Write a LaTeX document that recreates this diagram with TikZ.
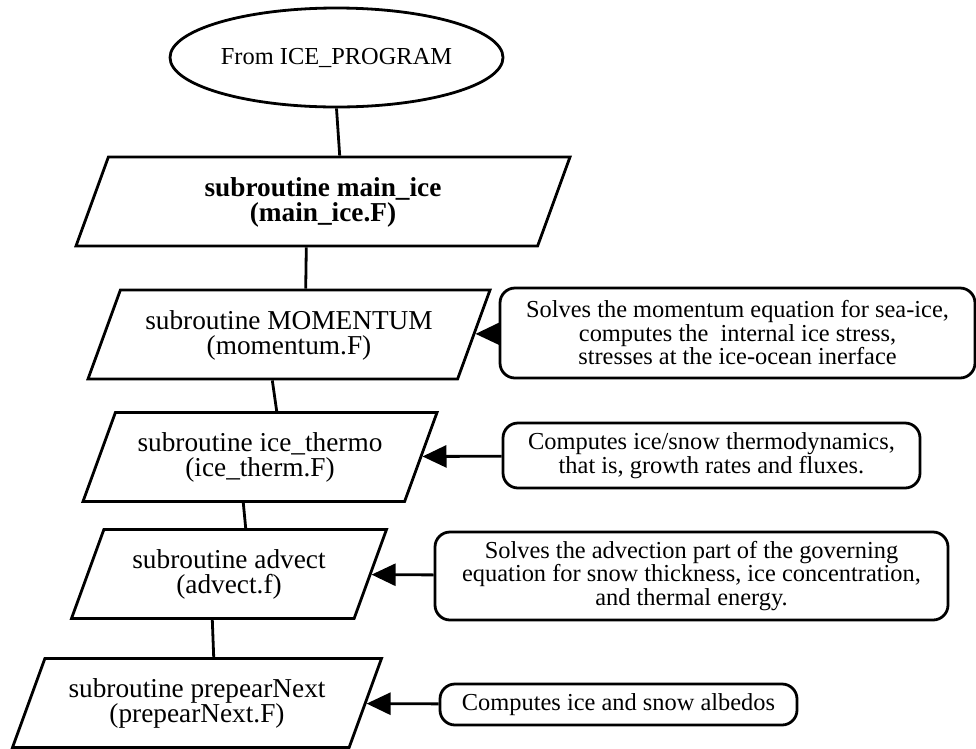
\documentclass[tikz,border=0pt]{standalone}
\usepackage{fontspec}
\setmainfont{Liberation Serif}
\usetikzlibrary{shapes.geometric,arrows.meta}
\begin{document}
\begin{tikzpicture}[x=1pt,y=-1pt,line width=2.8pt,
   sub/.style={draw,trapezium,trapezium left angle=70,trapezium right angle=110,
      trapezium stretches body,inner sep=0pt,text height=64pt,text depth=25pt,
      align=center,font=\fontsize{27.3}{25}\selectfont},
   nota/.style={draw,rounded corners=15pt,align=center,inner sep=0pt,
      font=\fontsize{24.4}{23.5}\selectfont},
   flecha/.style={-{Triangle[length=24pt,width=22pt]}}]
   \useasboundingbox (0,0) rectangle (976,748);
   \node[draw,ellipse,minimum width=333pt,minimum height=99pt,inner sep=0pt,
      font=\fontsize{24.4}{25}\selectfont] (inicio) at (336.5,57.5) {From ICE\_PROGRAM};
   \node[sub,minimum width=494pt,font=\fontsize{27.3}{25}\selectfont\bfseries]
      (mainice) at (323,201.5) {subroutine main\_ice\\(main\_ice.F)};
   \node[sub,minimum width=402pt] (momentum) at (289,334.5) {subroutine MOMENTUM\\(momentum.F)};
   \node[sub,minimum width=354pt] (thermo) at (260,457) {subroutine ice\_thermo\\(ice\_therm.F)};
   \node[sub,minimum width=315pt] (advect) at (229,574) {subroutine advect\\(advect.f)};
   \node[sub,minimum width=369pt] (next) at (197,703) {subroutine prepearNext\\(prepearNext.F)};
   % notas
   \node[nota,minimum width=475pt,minimum height=90pt] (nmom) at (737.5,333)
      {Solves the momentum equation for sea-ice,\\computes the\ \ internal ice stress,\\stresses at the ice-ocean inerface};
   \node[nota,minimum width=417pt,minimum height=65pt] (nthermo) at (711.5,455.5)
      {Computes ice/snow thermodynamics,\\that is, growth rates and fluxes.};
   \node[nota,minimum width=513pt,minimum height=88pt] (nadv) at (691.5,576)
      {Solves the advection part of the governing\\equation for snow thickness, ice concentration,\\and thermal energy.};
   \node[nota,minimum width=357pt,minimum height=41pt] (nnext) at (618.5,704.5)
      {Computes ice and snow albedos};
   \draw (inicio.south) -- (mainice.top side);
   \draw (mainice.bottom side) -- (momentum.top side);
   \draw (momentum.bottom side) -- (thermo.top side);
   \draw (thermo.bottom side) -- (advect.top side);
   \draw (advect.bottom side) -- (next.top side);
   \draw[flecha] (nmom) -- (momentum);
   \draw[flecha] (nthermo) -- (thermo);
   \draw[flecha] (nadv) -- (advect);
   \draw[flecha] (nnext) -- (next);
\end{tikzpicture}
\end{document}
